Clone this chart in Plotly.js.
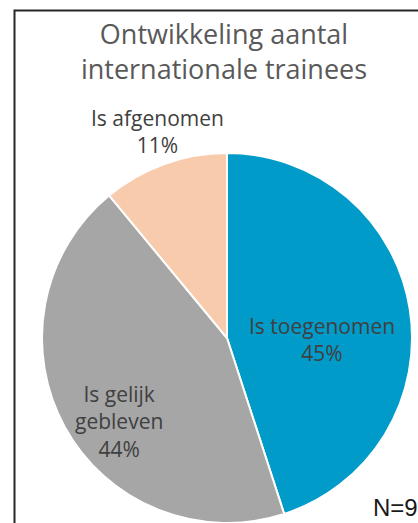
<!DOCTYPE html>
<html>
<head>
<meta charset="utf-8">
<script src="https://cdn.plot.ly/plotly-3.0.1.min.js"></script>
<style>
html, body { margin: 0; padding: 0; background: #ffffff; overflow: hidden; }
#chart { width: 418px; height: 523px; }
</style>
</head>
<body>
<div id="chart"></div>
<script>
// Data
var categories = ['Is toegenomen', 'Is gelijk gebleven', 'Is afgenomen'];
var displayLabels = ['Is toegenomen', 'Is gelijk<br>gebleven', 'Is afgenomen'];
var values = [45, 44, 11];
var colors = ['#009BC8', '#A6A6A6', '#F8CBAD'];
var titleText = 'Ontwikkeling aantal<br>internationale trainees';
var noteText = 'N=9';

var W = 418, H = 523;
function px(x) { return x / W; }
function py(y) { return 1 - y / H; }

var total = values.reduce(function (a, b) { return a + b; }, 0);

// label anchor positions (pixel centres)
var labelPos = [
  [322, 339],
  [119, 421],
  [157, 131]
];

var annotations = categories.map(function (c, i) {
  return {
    xref: 'paper', yref: 'paper',
    x: px(labelPos[i][0]), y: py(labelPos[i][1]),
    xanchor: 'center', yanchor: 'middle',
    text: displayLabels[i] + '<br>' + Math.round(values[i] / total * 100) + '%',
    showarrow: false,
    align: 'center',
    font: { family: 'Open Sans', size: 21, color: '#404040' }
  };
});

annotations.push({
  xref: 'paper', yref: 'paper',
  x: px(371), y: py(507),
  xanchor: 'left', yanchor: 'middle',
  text: noteText,
  showarrow: false,
  font: { family: 'Liberation Sans', size: 24, color: '#1a1a1a' }
});

var trace = {
  type: 'pie',
  labels: categories,
  values: values,
  sort: false,
  direction: 'clockwise',
  rotation: 0,
  textinfo: 'none',
  hoverinfo: 'label+percent',
  marker: { colors: colors, line: { color: '#ffffff', width: 2 } },
  domain: { x: [px(42), px(412)], y: [0, 1 - 153 / H] },
  showlegend: false
};

var layout = {
  width: W, height: H,
  margin: { l: 0, r: 0, t: 0, b: 0 },
  paper_bgcolor: '#ffffff',
  title: {
    text: titleText,
    x: px(224), xanchor: 'center', xref: 'paper',
    y: py(44), yanchor: 'middle', yref: 'container',
    font: { family: 'Open Sans', size: 27, color: '#595959' }
  },
  showlegend: false,
  annotations: annotations,
  shapes: [{
    type: 'rect', xref: 'paper', yref: 'paper',
    x0: px(14.5), x1: 1.2, y0: -0.2, y1: py(10.5),
    line: { color: '#262626', width: 2 },
    fillcolor: 'rgba(0,0,0,0)'
  }]
};

Plotly.newPlot('chart', [trace], layout, { displayModeBar: false, staticPlot: true });
</script>
</body>
</html>
